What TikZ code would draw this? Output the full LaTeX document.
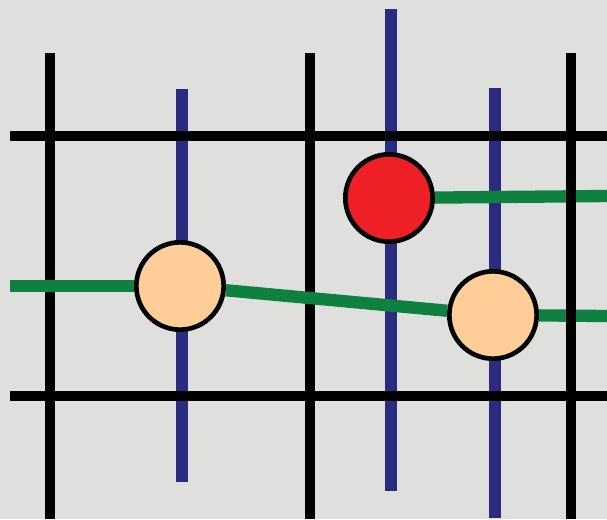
\documentclass[tikz,border=0pt]{standalone}
\usetikzlibrary{positioning}

\definecolor{bgrey}{HTML}{DFDFDD}
\definecolor{pipeblue}{HTML}{2B2C80}
\definecolor{linkgreen}{HTML}{0E8040}
\definecolor{hotred}{HTML}{EE1F25}
\definecolor{peach}{HTML}{FECD98}

\begin{document}
\begin{tikzpicture}[
  x=0.03cm, y=-0.03cm,
  grid/.style={line width=0.3cm, draw=black},
  pole/.style={line width=0.36cm, draw=pipeblue},
  link/.style={line width=0.37cm, draw=linkgreen},
  site/.style={circle, draw=black, line width=0.14cm, minimum size=2.62cm, inner sep=0pt},
  cold/.style={site, fill=peach},
  hot/.style={site, fill=hotred}
]

% background and frame
\fill[bgrey] (0,0) rectangle (607,519);
\useasboundingbox (0,0) rectangle (607,519);

% blue poles
\draw[pole] (182,89) -- (182,482);
\draw[pole] (391,9) -- (391,491);
\draw[pole] (495,88) -- (495,518);

% black grid
\draw[grid] (10,136) -- (607,136);
\draw[grid] (10,396) -- (607,396);
\draw[grid] (50,53) -- (50,519);
\draw[grid] (310,53) -- (310,519);

% sites
\node[cold] (left) at (180,286) {};
\node[hot] (top) at (389,198) {};
\node[cold] (right) at (493,315) {};

\coordinate (inL) at (10,286);
\coordinate (outR) at (607,316);
\coordinate (outT) at (607,196);

% green links
\draw[link] (inL) -- (left);
\draw[link] (left) -- (right);
\draw[link] (right) -- (outR);
\draw[link] (top) -- (outT);

\draw[grid] (571,53) -- (571,519);

\end{tikzpicture}
\end{document}
